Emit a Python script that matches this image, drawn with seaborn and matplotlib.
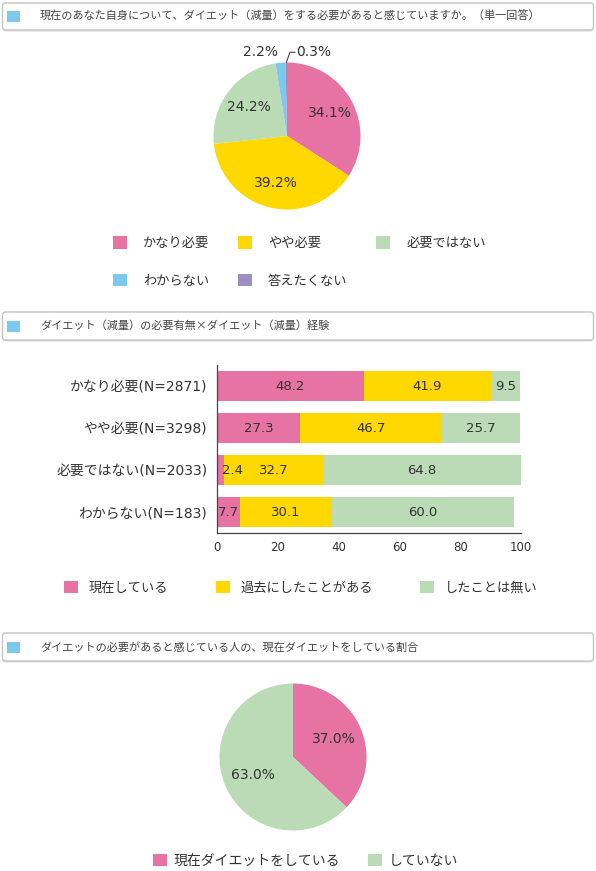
import matplotlib
matplotlib.use("Agg")
import matplotlib.pyplot as plt
import numpy as np
import seaborn as sns
from matplotlib.patches import FancyBboxPatch, Rectangle, Patch

# ---- データ ----
q1_labels = ["かなり必要", "やや必要", "必要ではない", "わからない", "答えたくない"]
q1_values = [34.1, 39.2, 24.2, 2.2, 0.3]

bar_cats = ["かなり必要(N=2871)", "やや必要(N=3298)", "必要ではない(N=2033)", "わからない(N=183)"]
bar_now = [48.2, 27.3, 2.4, 7.7]
bar_past = [41.9, 46.7, 32.7, 30.1]
bar_never = [9.5, 25.7, 64.8, 60.0]
bar_series = ["現在している", "過去にしたことがある", "したことは無い"]
bar_ticks = [0, 20, 40, 60, 80, 100]

q3_labels = ["現在ダイエットをしている", "していない"]
q3_values = [37.0, 63.0]

titles = [
    "現在のあなた自身について、ダイエット（減量）をする必要があると感じていますか。（単一回答）",
    "ダイエット（減量）の必要有無×ダイエット（減量）経験",
    "ダイエットの必要があると感じている人の、現在ダイエットをしている割合",
]

pink, yellow, green, blue, purple = "#E673A3", "#FFD800", "#BADBB5", "#7DC8EE", "#9C8EC2"
q1_colors = [pink, yellow, green, blue, purple]
txt = "#333333"

sns.set_style("white")
# 数字は幅の広い DejaVu、和文は Noto Sans CJK JP
plt.rcParams["font.family"] = ["DejaVu Sans", "Noto Sans CJK JP"]
jp = ["Noto Sans CJK JP", "DejaVu Sans"]

W, H = 596, 871
fig = plt.figure(figsize=(W / 100, H / 100), dpi=100)


def px_axes(left, top, width, height):
    return fig.add_axes([left / W, 1 - (top + height) / H, width / W, height / H])


# 背景（ヘッダーの枠）
bg = px_axes(0, 0, W, H)
bg.set_xlim(0, W)
bg.set_ylim(H, 0)
bg.axis("off")


def header(y0, y1, text):
    bg.add_patch(FancyBboxPatch((2.5, y0 + 1.5), 591, y1 - y0, boxstyle="round,pad=0,rounding_size=3",
                                fc="#DDDDDD", ec="none"))
    bg.add_patch(FancyBboxPatch((2.5, y0), 591, y1 - y0, boxstyle="round,pad=0,rounding_size=3",
                                fc="white", ec="#C4C4C4", lw=1))
    cy = (y0 + y1) / 2
    bg.add_patch(Rectangle((7, cy - 5.5), 13, 11, fc=blue, ec="none"))
    bg.text(40, cy, text, fontsize=8, va="center", ha="left", color="#444444", family=jp)


header(3, 30, titles[0])
header(312, 340, titles[1])
header(633, 661, titles[2])

R = 73.5


def pie_axes(cx, cy, size=220):
    ax = px_axes(cx - size / 2, cy - size / 2, size, size)
    return ax, size / 2 / R


# ---- 円グラフ1 ----
ax1, lim = pie_axes(287, 136)
ax1.pie(q1_values, colors=q1_colors, startangle=90, counterclock=False,
        wedgeprops=dict(linewidth=0))
ax1.set_xlim(-lim, lim)
ax1.set_ylim(-lim, lim)
cum = np.cumsum([0] + q1_values[:-1])
mids = 90 - (cum + np.array(q1_values) / 2) * 3.6
for i, (v, a) in enumerate(zip(q1_values, np.radians(mids))):
    if v >= 5:
        ax1.text(0.66 * np.cos(a), 0.66 * np.sin(a), f"{v:.1f}%", ha="center", va="center",
                 fontsize=10, color=txt)
    elif i == 3:
        ax1.text(1.15 * np.cos(a) - 0.02, 1.14, f"{v:.1f}%", ha="right", va="center",
                 fontsize=10, color=txt)
    else:
        x0, y0 = np.cos(a), np.sin(a)
        ax1.plot([x0, x0 + 0.05, x0 + 0.12], [y0, 1.14, 1.14], color="#444444", lw=0.8)
        ax1.text(x0 + 0.14, 1.14, f"{v:.1f}%", ha="left", va="center", fontsize=10, color=txt)

h1 = [Patch(fc=c, ec="none") for c in q1_colors]
order = [0, 3, 1, 4, 2]
fig.legend([h1[i] for i in order], [q1_labels[i] for i in order], ncol=3, loc="center left",
           bbox_to_anchor=(113 / W, 1 - 262 / H), frameon=False, labelcolor=txt,
           prop=dict(family=jp, size=9.5),
           handlelength=1.06, handleheight=1.06, handletextpad=1.2, columnspacing=2.2,
           labelspacing=1.8, borderpad=0, borderaxespad=0)

# ---- 積み上げ横棒 ----
ax2 = px_axes(217, 365, 304, 168)
total = np.array(bar_now) + np.array(bar_past) + np.array(bar_never)
mid = np.array(bar_now) + np.array(bar_past)
for vals, c in [(total, green), (mid, yellow), (bar_now, pink)]:
    sns.barplot(x=list(vals), y=bar_cats, color=c, orient="h", width=0.714, saturation=1,
                linewidth=0, ax=ax2)
ax2.set_xlim(0, 100)
ax2.set_xticks(bar_ticks)
ax2.set_xlabel("")
ax2.set_ylabel("")
sns.despine(ax=ax2)
for s in ["left", "bottom"]:
    ax2.spines[s].set_color("#444444")
    ax2.spines[s].set_linewidth(0.9)
ax2.tick_params(axis="y", length=0, pad=7, labelsize=10, colors=txt)
ax2.tick_params(axis="x", length=3, width=0.8, pad=3, labelsize=8.5, colors=txt, color="#444444")

for i in range(len(bar_cats)):
    left = 0
    for v in [bar_now[i], bar_past[i], bar_never[i]]:
        if v < 5:
            ax2.text(left + 1.5, i, f"{v:.1f}", ha="left", va="center", fontsize=9.5, color=txt)
        else:
            ax2.text(left + v / 2, i, f"{v:.1f}", ha="center", va="center", fontsize=9.5, color=txt)
        left += v

h2 = [Patch(fc=c, ec="none") for c in [pink, yellow, green]]
fig.legend(h2, bar_series, ncol=3, loc="center left", bbox_to_anchor=(64 / W, 1 - 588 / H),
           frameon=False, prop=dict(family=jp, size=9.5), labelcolor=txt, handlelength=1.06,
           handleheight=1.06, handletextpad=0.8, columnspacing=3.6, borderpad=0, borderaxespad=0)

# ---- 円グラフ2 ----
ax3, lim = pie_axes(293, 757)
ax3.pie(q3_values, colors=[pink, green], startangle=90, counterclock=False,
        wedgeprops=dict(linewidth=0))
ax3.set_xlim(-lim, lim)
ax3.set_ylim(-lim, lim)
cum3 = np.cumsum([0] + q3_values[:-1])
mids3 = np.radians(90 - (cum3 + np.array(q3_values) / 2) * 3.6)
for v, a in zip(q3_values, mids3):
    ax3.text(0.6 * np.cos(a), 0.6 * np.sin(a), f"{v:.1f}%", ha="center", va="center",
             fontsize=10, color=txt)

h3 = [Patch(fc=c, ec="none") for c in [pink, green]]
fig.legend(h3, q3_labels, ncol=2, loc="center left", bbox_to_anchor=(153 / W, 1 - 861 / H),
           frameon=False, prop=dict(family=jp, size=10), labelcolor=txt, handlelength=1.0,
           handleheight=1.0, handletextpad=0.5, columnspacing=2.0, borderpad=0, borderaxespad=0)

fig.savefig("out.png", dpi=100)
